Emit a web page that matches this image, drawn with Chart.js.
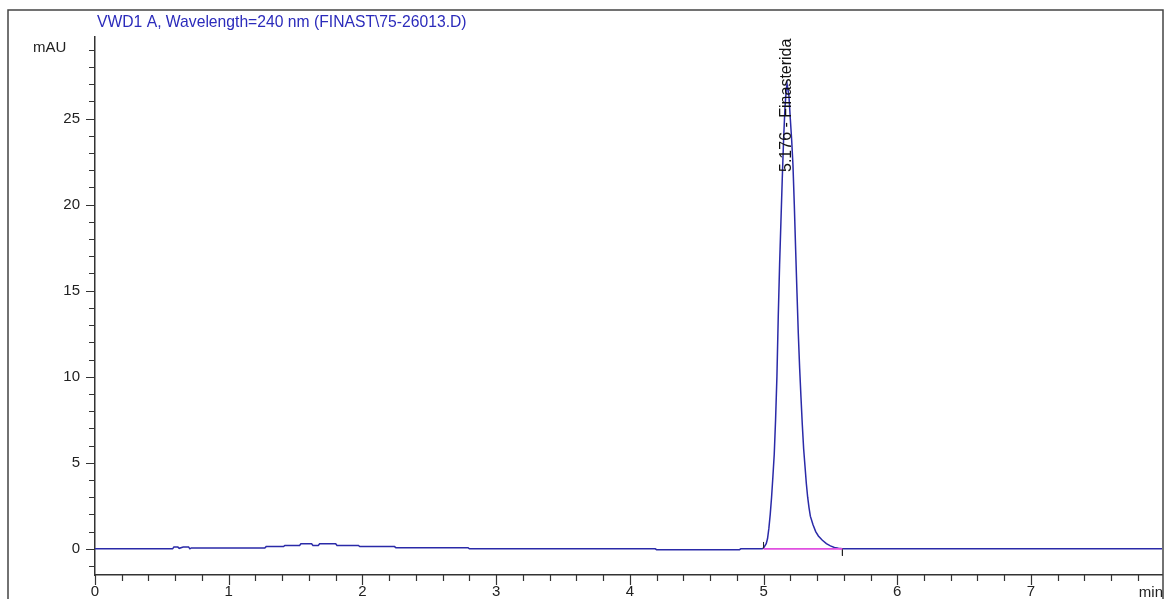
<!DOCTYPE html>
<html>
<head>
<meta charset="utf-8">
<script src="https://cdn.jsdelivr.net/npm/chart.js@4.4.0/dist/chart.umd.min.js"></script>
<style>
  html, body { margin: 0; padding: 0; background: #fff; }
  #wrap { width: 1166px; height: 599px; }
</style>
</head>
<body>
<div id="wrap"><canvas id="chrom" width="1166" height="599"></canvas></div>
<script>
// retention time (min) and detector signal (mAU)
const timeMin = [
  0.00, 0.58, 0.59, 0.62, 0.63, 0.66, 0.70, 0.71, 0.72,
  1.27, 1.28, 1.41, 1.42, 1.53, 1.54, 1.62, 1.63, 1.67, 1.68, 1.80, 1.81,
  1.97, 1.98, 2.24, 2.25, 2.79, 2.80, 4.19, 4.20, 4.82, 4.83,
  4.99, 5.00, 5.02, 5.03, 5.04, 5.05, 5.06, 5.07, 5.08, 5.09, 5.10,
  5.11, 5.12, 5.13, 5.14, 5.15, 5.16, 5.17, 5.176, 5.19, 5.20, 5.21,
  5.22, 5.23, 5.24, 5.25, 5.26, 5.27, 5.28, 5.29, 5.30, 5.31, 5.32,
  5.33, 5.34, 5.35, 5.37, 5.39, 5.41, 5.44, 5.47, 5.50, 5.53, 5.56,
  5.59, 5.60, 7.98
];
const signalMAU = [
  0.00, 0.00, 0.10, 0.10, 0.03, 0.10, 0.10, 0.00, 0.05,
  0.05, 0.13, 0.13, 0.20, 0.20, 0.30, 0.30, 0.20, 0.20, 0.30, 0.30, 0.20,
  0.20, 0.13, 0.13, 0.07, 0.07, 0.00, 0.00, -0.05, -0.05, 0.00,
  0.00, 0.05, 0.30, 0.60, 1.20, 2.00, 3.00, 4.20, 5.50, 7.50, 10.0,
  13.5, 16.5, 19.0, 21.5, 23.8, 25.6, 26.7, 27.0, 26.3, 25.0, 23.8,
  22.3, 20.0, 17.4, 14.9, 12.5, 10.5, 8.8, 7.2, 5.8, 4.8, 3.8,
  3.0, 2.4, 1.9, 1.4, 1.0, 0.75, 0.50, 0.30, 0.17, 0.08, 0.03,
  0.00, 0.00, 0.00
];

// integration baseline and peak start / end marks
const baseTime = [5.00, 5.59];
const baseMAU = [0.00, 0.00];
const startMarkMAU = [0.00, 0.40];
const endMarkMAU = [0.00, -0.40];

const peakRT = 5.176;
const peakName = '5.176 - Finasterida';

const xTickValues = [0, 1, 2, 3, 4, 5, 6, 7];
const yTickValues = [0, 5, 10, 15, 20, 25];
const xMin = 0, xMax = 7.98;
const yMin = -1.52, yMax = 29.74;

const FONT = '"Liberation Sans", Arial, sans-serif';

const trace = timeMin.map((t, i) => ({ x: t, y: signalMAU[i] }));
const baseline = baseTime.map((t, i) => ({ x: t, y: baseMAU[i] }));
const startMark = startMarkMAU.map(v => ({ x: baseTime[0], y: v }));
const endMark = endMarkMAU.map(v => ({ x: baseTime[1], y: v }));

const decor = {
  id: 'decor',
  beforeDraw(chart) {
    const ctx = chart.ctx;
    ctx.save();
    ctx.fillStyle = '#fff';
    ctx.fillRect(0, 0, chart.width, chart.height);
    ctx.restore();
  },
  afterDraw(chart) {
    const ctx = chart.ctx;
    const xs = chart.scales.x, ys = chart.scales.y;
    const area = chart.chartArea;
    ctx.save();

    // outer frame
    ctx.strokeStyle = '#444';
    ctx.lineWidth = 1.5;
    ctx.beginPath();
    ctx.moveTo(8, chart.height);
    ctx.lineTo(8, 10);
    ctx.lineTo(1163, 10);
    ctx.lineTo(1163, chart.height);
    ctx.stroke();

    // tick marks
    ctx.strokeStyle = '#333';
    ctx.lineWidth = 1.2;
    ctx.beginPath();
    for (let v = -1; v <= 29; v++) {
      const py = Math.round(ys.getPixelForValue(v)) + 0.5;
      const len = v % 5 === 0 ? 9 : 6;
      ctx.moveTo(area.left - len, py);
      ctx.lineTo(area.left, py);
    }
    for (let k = 0; k <= 39; k++) {
      const v = k * 0.2;
      if (v > xMax) break;
      const px = Math.round(xs.getPixelForValue(v)) + 0.5;
      const len = k % 5 === 0 ? 10 : 6;
      ctx.moveTo(px, area.bottom);
      ctx.lineTo(px, area.bottom + len);
    }
    ctx.stroke();

    // title
    ctx.fillStyle = '#2b2bbb';
    ctx.font = '15.7px ' + FONT;
    ctx.textAlign = 'left';
    ctx.textBaseline = 'alphabetic';
    ctx.fillText('VWD1 A, Wavelength=240 nm (FINAST\\75-26013.D)', 97, 27);

    // axis units
    ctx.fillStyle = '#222';
    ctx.font = '15px ' + FONT;
    ctx.textBaseline = 'middle';
    ctx.fillText('mAU', 33, 48);
    ctx.textAlign = 'right';
    ctx.fillText('min', 1163, 593);

    // peak label, reading upward
    ctx.fillStyle = '#111';
    ctx.font = '16px ' + FONT;
    ctx.textAlign = 'left';
    ctx.translate(xs.getPixelForValue(peakRT), 172);
    ctx.rotate(-Math.PI / 2);
    ctx.fillText(peakName, 0, 0);
    ctx.restore();
  }
};

new Chart(document.getElementById('chrom'), {
  type: 'line',
  data: {
    datasets: [
      { data: baseline, borderColor: '#e050e0', borderWidth: 1.6, pointRadius: 0, order: 0 },
      { data: startMark, borderColor: '#222', borderWidth: 1, pointRadius: 0, order: 0 },
      { data: endMark, borderColor: '#222', borderWidth: 1, pointRadius: 0, order: 0 },
      { data: trace, borderColor: '#2a2aa8', borderWidth: 1.5, pointRadius: 0, tension: 0, order: 1 }
    ]
  },
  options: {
    responsive: false,
    animation: false,
    events: [],
    layout: { padding: { top: 37, right: 4, left: 0, bottom: 0 } },
    plugins: {
      legend: { display: false },
      tooltip: { enabled: false }
    },
    scales: {
      x: {
        type: 'linear',
        min: xMin,
        max: xMax,
        afterFit: s => { s.height = 23; },
        afterBuildTicks: s => { s.ticks = xTickValues.map(v => ({ value: v })); },
        grid: { display: false, drawTicks: false },
        border: { display: true, color: '#333', width: 1.5 },
        ticks: {
          color: '#222',
          font: { family: FONT, size: 15 },
          padding: 8,
          maxRotation: 0,
          autoSkip: false
        }
      },
      y: {
        type: 'linear',
        min: yMin,
        max: yMax,
        afterFit: s => { s.width = 95; },
        afterBuildTicks: s => { s.ticks = yTickValues.map(v => ({ value: v })); },
        grid: { display: false, drawTicks: false },
        border: { display: true, color: '#333', width: 1.5 },
        ticks: {
          color: '#222',
          font: { family: FONT, size: 15 },
          padding: 15,
          autoSkip: false
        }
      }
    }
  },
  plugins: [decor]
});
</script>
</body>
</html>
